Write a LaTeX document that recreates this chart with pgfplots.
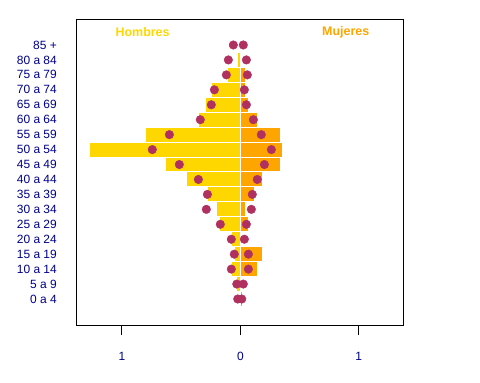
\documentclass[border=0pt]{standalone}
\usepackage{pgfplots}
\pgfplotsset{compat=1.18}
\usepackage{fontspec}
\setmainfont{Liberation Sans}
\definecolor{hom}{HTML}{FFD700}
\definecolor{muj}{HTML}{FFA500}
\definecolor{dotc}{HTML}{B03060}
\definecolor{lab}{HTML}{00008B}
\begin{document}
\begin{tikzpicture}
\begin{axis}[
  at={(0,0)}, anchor=south west,
  scale only axis, width=327bp, height=306bp,
  xmin=-1.387, xmax=1.373, ymin=-1.74, ymax=18.74,
  axis line style={line width=0.8bp},
  xtick={-1,0,1}, xticklabels={1,0,1},
  xtick align=outside, xtick pos=bottom,
  major tick length=10bp,
  x tick style={line width=0.8bp, black},
  ytick={0,...,17},
  yticklabels={0 a 4,5 a 9,10 a 14,15 a 19,20 a 24,25 a 29,30 a 34,35 a 39,40 a 44,45 a 49,50 a 54,55 a 59,60 a 64,65 a 69,70 a 74,75 a 79,80 a 84,85 +},
  y tick style={draw=none},
  tick label style={font=\fontsize{12}{14}\selectfont, text=lab},
  yticklabel style={anchor=east, inner sep=0pt, xshift=-19bp},
  xticklabel style={anchor=north, inner sep=0pt, yshift=-17bp},
  bar shift=0pt,
]
\addplot[xbar, bar width=1, fill=hom, draw=white, line width=1bp] coordinates {
(0,0) (-0.036,1) (-0.078,2) (-0.053,3) (-0.078,4) (-0.18,5) (-0.197,6) (-0.281,7) (-0.458,8) (-0.635,9) (-1.277,10) (-0.804,11) (-0.357,12) (-0.29,13) (-0.247,14) (-0.112,15) (-0.028,16) (0,17)};
\addplot[xbar, bar width=1, fill=muj, draw=white, line width=1bp] coordinates {
(0.017,0) (0.01,1) (0.141,2) (0.183,3) (0.005,4) (0.073,5) (0.04,6) (0.116,7) (0.183,8) (0.343,9) (0.36,10) (0.343,11) (0.141,12) (0.073,13) (0.04,14) (0.04,15) (0.01,16) (0.01,17)};
\addplot[only marks, mark=*, mark size=4.3bp, mark options={fill=dotc, draw=dotc}] coordinates {
(-0.022,0) (-0.03,1) (-0.076,2) (-0.051,3) (-0.076,4) (-0.169,5) (-0.287,6) (-0.278,7) (-0.354,8) (-0.515,9) (-0.743,10) (-0.599,11) (-0.338,12) (-0.245,13) (-0.219,14) (-0.118,15) (-0.101,16) (-0.059,17)};
\addplot[only marks, mark=*, mark size=4.3bp, mark options={fill=dotc, draw=dotc}] coordinates {
(0.012,0) (0.025,1) (0.068,2) (0.068,3) (0.034,4) (0.051,5) (0.093,6) (0.101,7) (0.143,8) (0.203,9) (0.262,10) (0.177,11) (0.11,12) (0.051,13) (0.034,14) (0.059,15) (0.051,16) (0.025,17)};
\node[text=hom, font=\fontsize{12.5}{14}\selectfont\bfseries] at (axis cs:-0.825,17.87) {Hombres};
\node[text=muj, font=\fontsize{12.5}{14}\selectfont\bfseries] at (axis cs:0.89,17.87) {Mujeres};
\end{axis}
\path[use as bounding box] (-76bp,-58bp) rectangle (404bp,325bp);
\end{tikzpicture}
\end{document}
